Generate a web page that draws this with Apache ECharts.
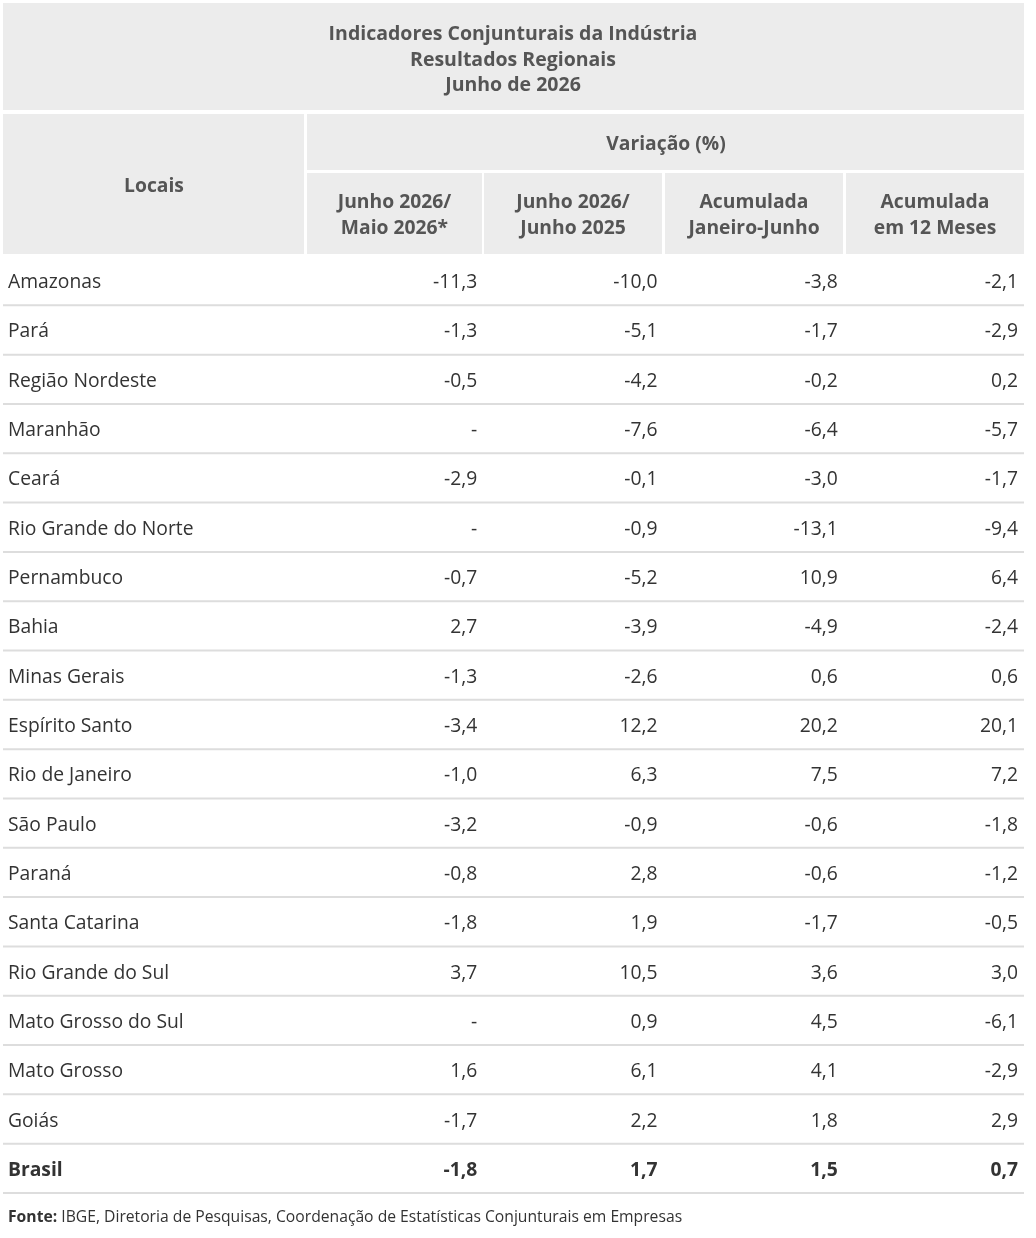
<!DOCTYPE html>
<html>
<head>
<meta charset="utf-8">
<title>Indicadores Conjunturais da Indústria</title>
<script src="https://cdn.jsdelivr.net/npm/echarts@6/dist/echarts.min.js"></script>
<style>
  html, body { margin: 0; padding: 0; background: #fff; }
  #chart { width: 1036px; height: 1238px; }
</style>
</head>
<body>
<div id="chart"></div>
<script>
const titleLines = ['Indicadores Conjunturais da Indústria', 'Resultados Regionais', 'Junho de 2026'];
const groupHeader = 'Variação (%)';
const firstHeader = 'Locais';
const columns = ['Junho 2026/\nMaio 2026*', 'Junho 2026/\nJunho 2025', 'Acumulada\nJaneiro-Junho', 'Acumulada\nem 12 Meses'];
const places = ['Amazonas', 'Pará', 'Região Nordeste', 'Maranhão', 'Ceará', 'Rio Grande do Norte',
  'Pernambuco', 'Bahia', 'Minas Gerais', 'Espírito Santo', 'Rio de Janeiro', 'São Paulo', 'Paraná',
  'Santa Catarina', 'Rio Grande do Sul', 'Mato Grosso do Sul', 'Mato Grosso', 'Goiás', 'Brasil'];
// null = "-" (not available)
const monthOverMonth = [-11.3, -1.3, -0.5, null, -2.9, null, -0.7, 2.7, -1.3, -3.4, -1.0, -3.2, -0.8, -1.8, 3.7, null, 1.6, -1.7, -1.8];
const yearOverYear   = [-10.0, -5.1, -4.2, -7.6, -0.1, -0.9, -5.2, -3.9, -2.6, 12.2, 6.3, -0.9, 2.8, 1.9, 10.5, 0.9, 6.1, 2.2, 1.7];
const accumYear      = [-3.8, -1.7, -0.2, -6.4, -3.0, -13.1, 10.9, -4.9, 0.6, 20.2, 7.5, -0.6, -0.6, -1.7, 3.6, 4.5, 4.1, 1.8, 1.5];
const accum12        = [-2.1, -2.9, 0.2, -5.7, -1.7, -9.4, 6.4, -2.4, 0.6, 20.1, 7.2, -1.8, -1.2, -0.5, 3.0, -6.1, -2.9, 2.9, 0.7];
const source = 'IBGE, Diretoria de Pesquisas, Coordenação de Estatísticas Conjunturais em Empresas';

const FONT = '"Open Sans", "Noto Sans", sans-serif';
const HEAD_BG = '#ececec';
const HEAD_TXT = '#555555';
const BODY_TXT = '#333333';
const LINE = '#dddddd';
const BODY_SIZE = 19.3;

const seriesCols = [monthOverMonth, yearOverYear, accumYear, accum12];
const totalRow = 'Brasil';

function fmt(v) {
  if (v === null) return '-';
  return v.toFixed(1).replace('.', ',');
}

// build cell data for the numeric grid: [colIndex, rowIndex, text]
const cells = [];
seriesCols.forEach((col, c) => {
  col.forEach((v, r) => cells.push([c, r, fmt(v)]));
});
const nameCells = places.map((p, r) => [0, r, p]);

const chart = echarts.init(document.getElementById('chart'));

function headCell(x, y, w, h) {
  return { type: 'rect', shape: { x, y, width: w, height: h }, style: { fill: HEAD_BG }, silent: true };
}
function headText(x, y, text, size, lh) {
  return {
    type: 'text', x, y, silent: true,
    style: { text, fill: HEAD_TXT, font: `bold ${size}px ${FONT}`, align: 'center', verticalAlign: 'middle', lineHeight: lh }
  };
}

const subX = [307, 484, 665, 846];
const subW = [175, 178, 178, 178];

const graphics = [
  headCell(3, 3, 1021, 107),
  headText(513, 60, titleLines.join('\n'), 19.5, 25.5),
  headCell(3, 114, 301, 140),
  headText(154, 187, firstHeader, BODY_SIZE, 26),
  headCell(307, 114, 717, 56),
  headText(666, 145, groupHeader, BODY_SIZE, 26),
];
columns.forEach((c, i) => {
  graphics.push(headCell(subX[i], 173, subW[i], 81));
  graphics.push(headText(subX[i] + subW[i] / 2, 216, c, BODY_SIZE, 26));
});
graphics.push({
  type: 'text', x: 8, y: 1218, silent: true,
  style: {
    text: '{b|Fonte:} ' + source,
    fill: BODY_TXT, font: `15.7px ${FONT}`, verticalAlign: 'middle',
    rich: { b: { fontWeight: 'bold', fontSize: 15.7, fontFamily: FONT, fill: BODY_TXT } }
  }
});

function renderName(params, api) {
  const r = api.value(1);
  const pt = api.coord([api.value(0), r]);
  const size = api.size([1, 1]);
  const left = pt[0] - size[0] / 2;
  const bottom = pt[1] + size[1] / 2;
  const bold = places[r] === totalRow;
  return {
    type: 'group',
    children: [
      {
        type: 'line',
        shape: { x1: left, y1: bottom, x2: 1024, y2: bottom },
        style: { stroke: LINE, lineWidth: 2 }
      },
      {
        type: 'text',
        style: {
          x: left + 5, y: pt[1] + 2, text: places[r], fill: BODY_TXT,
          font: `${bold ? 'bold ' : ''}${BODY_SIZE}px ${FONT}`, align: 'left', verticalAlign: 'middle'
        }
      }
    ]
  };
}

function renderValue(params, api) {
  const c = api.value(0);
  const r = api.value(1);
  const pt = api.coord([c, r]);
  const size = api.size([1, 1]);
  const right = pt[0] + size[0] / 2;
  const bold = places[r] === totalRow;
  return {
    type: 'text',
    style: {
      x: right - 8, y: pt[1] + 2, text: cells[params.dataIndex][2], fill: BODY_TXT,
      font: `${bold ? 'bold ' : ''}${BODY_SIZE}px ${FONT}`, align: 'right', verticalAlign: 'middle'
    }
  };
}

const hiddenAxis = { show: false };

chart.setOption({
  animation: false,
  backgroundColor: '#ffffff',
  graphic: graphics,
  grid: [
    { left: 3, width: 301, top: 256, height: 937 },
    { left: 305, width: 721, top: 256, height: 937 }
  ],
  xAxis: [
    Object.assign({ type: 'category', gridIndex: 0, data: [firstHeader] }, hiddenAxis),
    Object.assign({ type: 'category', gridIndex: 1, data: columns }, hiddenAxis)
  ],
  yAxis: [
    Object.assign({ type: 'category', gridIndex: 0, data: places, inverse: true }, hiddenAxis),
    Object.assign({ type: 'category', gridIndex: 1, data: places, inverse: true }, hiddenAxis)
  ],
  series: [
    {
      type: 'custom', xAxisIndex: 0, yAxisIndex: 0, silent: true,
      renderItem: renderName, data: nameCells, encode: { x: 0, y: 1 }
    },
    {
      type: 'custom', xAxisIndex: 1, yAxisIndex: 1, silent: true,
      renderItem: renderValue, data: cells, encode: { x: 0, y: 1 }
    }
  ]
});

window.addEventListener('resize', () => chart.resize());
</script>
</body>
</html>
